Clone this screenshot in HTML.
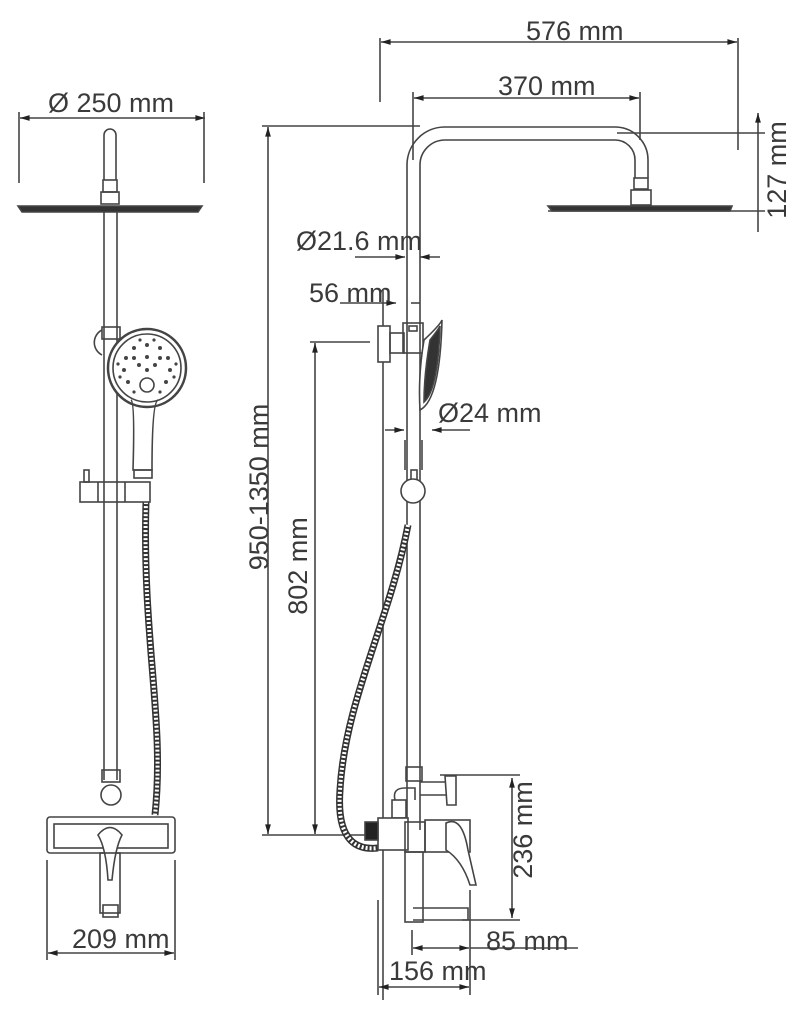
<!DOCTYPE html>
<html><head><meta charset="utf-8"><style>
html,body{margin:0;padding:0;background:#fff;}
svg{display:block;}
text{font-family:"Liberation Sans",sans-serif;font-size:27px;fill:#3a3a3a;}
</style></head><body>
<svg width="800" height="1021" viewBox="0 0 800 1021" xmlns="http://www.w3.org/2000/svg">
<defs>
<marker id="a" viewBox="0 0 10 10" refX="10" refY="5" markerWidth="8" markerHeight="6" orient="auto-start-reverse"><path d="M0,2 L10,5 L0,8z" fill="#222"/></marker>
</defs>
<g stroke="#444" stroke-width="1.6" fill="none">
<!-- LEFT VIEW -->
<line x1="20" y1="118" x2="205" y2="118" marker-start="url(#a)" marker-end="url(#a)"/>
<line x1="19" y1="112" x2="19" y2="183"/><line x1="204" y1="112" x2="204" y2="183"/>
<path d="M104,180 V135 A6,6 0 0 1 116,135 V180"/>
<rect x="103" y="180" width="14" height="12"/>
<rect x="101" y="192" width="18" height="12"/>
<path d="M18,206 H202 L198,212 H22 Z" fill="#333"/>
<line x1="104" y1="212" x2="104" y2="780"/><line x1="117" y1="212" x2="117" y2="780"/>
<rect x="102" y="327" width="18" height="12"/>
<path d="M102,330 A14,14 0 0 0 102,355"/>
<path d="M146,502 C142,640 165,720 155,815" stroke="#333" stroke-width="7"/>
<path d="M146,502 C142,640 165,720 155,815" stroke="#fff" stroke-width="4" stroke-dasharray="2 2"/>
<circle cx="147" cy="368" r="39" stroke-width="2.5" fill="#fff"/>
<circle cx="147" cy="368" r="34"/>
<g fill="#444" stroke="none">
<circle cx="147" cy="345" r="2"/><circle cx="160" cy="348" r="2"/><circle cx="134" cy="348" r="2"/>
<circle cx="168" cy="358" r="2"/><circle cx="126" cy="358" r="2"/><circle cx="170" cy="370" r="2"/><circle cx="124" cy="370" r="2"/>
<circle cx="166" cy="382" r="2"/><circle cx="128" cy="382" r="2"/><circle cx="147" cy="357" r="2"/><circle cx="139" cy="365" r="2"/>
<circle cx="155" cy="365" r="2"/><circle cx="147" cy="370" r="2"/><circle cx="140" cy="340" r="1.6"/><circle cx="154" cy="340" r="1.6"/>
<circle cx="118" cy="364" r="1.6"/><circle cx="176" cy="364" r="1.6"/><circle cx="120" cy="377" r="1.6"/><circle cx="174" cy="377" r="1.6"/>
<circle cx="160" cy="392" r="1.6"/><circle cx="134" cy="392" r="1.6"/><circle cx="160" cy="358" r="2"/><circle cx="134" cy="358" r="2"/>
</g>
<circle cx="147" cy="385" r="7" fill="#fff"/>
<path d="M131,400 Q135,402 133,470 H152 Q152,402 158,400"/>
<rect x="134" y="470" width="18" height="8"/>
<rect x="80" y="482" width="70" height="20"/>
<line x1="98" y1="482" x2="98" y2="502"/><line x1="125" y1="482" x2="125" y2="502"/>
<rect x="84" y="470" width="5" height="12"/>
<rect x="102" y="770" width="18" height="12"/>
<circle cx="111" cy="795" r="10"/>
<rect x="47" y="817" width="128" height="36" rx="3" fill="#fff"/>
<rect x="54" y="824" width="114" height="24"/>
<path d="M98,835 Q110,820 122,835 Q115,848 112,880 H108 Q106,848 98,835Z" fill="#fff"/>
<rect x="100" y="853" width="20" height="60"/>
<rect x="103" y="905" width="15" height="12"/>
<line x1="47" y1="860" x2="47" y2="960"/><line x1="175" y1="860" x2="175" y2="960"/>
<line x1="48" y1="953" x2="174" y2="953" marker-start="url(#a)" marker-end="url(#a)"/>

<!-- RIGHT VIEW -->
<line x1="380" y1="38" x2="380" y2="102"/><line x1="738" y1="38" x2="738" y2="150"/>
<line x1="381" y1="42" x2="737" y2="42" marker-start="url(#a)" marker-end="url(#a)"/>
<line x1="413" y1="92" x2="413" y2="160"/><line x1="640" y1="92" x2="640" y2="140"/>
<line x1="414" y1="98" x2="639" y2="98" marker-start="url(#a)" marker-end="url(#a)"/>
<line x1="617" y1="133" x2="765" y2="133"/><line x1="548" y1="211" x2="765" y2="211"/>
<line x1="758" y1="113" x2="758" y2="232" marker-start="url(#a)"/>
<line x1="262" y1="126" x2="420" y2="126"/>
<line x1="268" y1="127" x2="268" y2="834" marker-start="url(#a)" marker-end="url(#a)"/>
<line x1="262" y1="835" x2="375" y2="835"/>
<line x1="310" y1="342" x2="370" y2="342"/>
<line x1="315" y1="343" x2="315" y2="834" marker-start="url(#a)" marker-end="url(#a)"/>
<path d="M407,830 V165 A38,38 0 0 1 445,127 H615 A33,33 0 0 1 648,160 V178"/>
<path d="M420,830 V165 A25,25 0 0 1 445,140 H615 A20,20 0 0 1 635,160 V178"/>
<rect x="634" y="178" width="14" height="11"/>
<rect x="631" y="190" width="20" height="15"/>
<path d="M548,206 H732 L730,211 H552 Z" fill="#333"/>
<line x1="355" y1="257" x2="405" y2="257" marker-end="url(#a)"/>
<line x1="420" y1="257" x2="440" y2="257" marker-start="url(#a)"/>
<line x1="340" y1="303" x2="396" y2="303" marker-end="url(#a)"/>
<line x1="411" y1="303" x2="420" y2="303"/>
<line x1="383" y1="290" x2="383" y2="1000"/>
<line x1="385" y1="430" x2="404" y2="430" marker-end="url(#a)"/>
<line x1="432" y1="430" x2="470" y2="430" marker-start="url(#a)"/>
<rect x="378" y="326" width="12" height="36" fill="#fff"/>
<rect x="390" y="333" width="14" height="20"/>
<rect x="403" y="323" width="20" height="30"/>
<rect x="409" y="326" width="8" height="5"/>
<path d="M424,340 Q440,325 442,320 Q440,400 420,410 Q418,375 424,340Z" fill="#fff"/>
<path d="M430,340 Q438,330 440,326 Q438,390 424,402 Q424,375 430,340Z" fill="#333"/>
<line x1="405" y1="440" x2="405" y2="470"/><line x1="422" y1="440" x2="422" y2="470"/>
<rect x="411" y="470" width="6" height="10"/>
<circle cx="413" cy="491" r="12" fill="#fff"/>
<path d="M408,525 C390,620 345,700 340,790 C336,845 360,850 378,848" stroke="#333" stroke-width="7"/>
<path d="M408,525 C390,620 345,700 340,790 C336,845 360,850 378,848" stroke="#fff" stroke-width="4" stroke-dasharray="2 2"/>
<rect x="406" y="767" width="16" height="14"/>
<path d="M420,782 H450 V795 H420"/>
<path d="M445,776 H456 V805 H447Z" fill="#fff"/>
<path d="M395,800 Q392,788 405,788 H415 V800"/>
<rect x="392" y="800" width="14" height="18"/>
<rect x="378" y="818" width="30" height="32" fill="#fff"/>
<rect x="365" y="822" width="13" height="18" fill="#222"/>
<rect x="405" y="822" width="20" height="30"/>
<rect x="425" y="820" width="45" height="32"/>
<path d="M446,823 Q462,815 468,850 L476,885 H470 Q462,860 446,850Z" fill="#fff"/>
<rect x="405" y="852" width="18" height="70"/>
<path d="M413,908 H468 V920 H413"/>
<line x1="440" y1="775" x2="520" y2="775"/><line x1="462" y1="920" x2="520" y2="920"/>
<line x1="512" y1="778" x2="512" y2="918" marker-start="url(#a)" marker-end="url(#a)"/>
<line x1="412" y1="930" x2="412" y2="955"/><line x1="470" y1="890" x2="470" y2="995"/>
<line x1="413" y1="948" x2="469" y2="948" marker-start="url(#a)" marker-end="url(#a)"/>
<line x1="470" y1="948" x2="578" y2="948"/>
<line x1="378" y1="900" x2="378" y2="995"/>
<line x1="379" y1="987" x2="469" y2="987" marker-start="url(#a)" marker-end="url(#a)"/>
</g>
<text x="48" y="112">Ø 250 mm</text>
<text x="72" y="948">209 mm</text>
<text x="526" y="40">576 mm</text>
<text x="498" y="95">370 mm</text>
<text x="296" y="250">Ø21.6 mm</text>
<text x="309" y="302">56 mm</text>
<text x="438" y="422">Ø24 mm</text>
<text x="486" y="950">85 mm</text>
<text x="389" y="980">156 mm</text>
<text transform="translate(268,487) rotate(-90)" text-anchor="middle">950-1350 mm</text>
<text transform="translate(307,566) rotate(-90)" text-anchor="middle">802 mm</text>
<text transform="translate(786,170) rotate(-90)" text-anchor="middle">127 mm</text>
<text transform="translate(532,830) rotate(-90)" text-anchor="middle">236 mm</text>
</svg>
</body></html>
